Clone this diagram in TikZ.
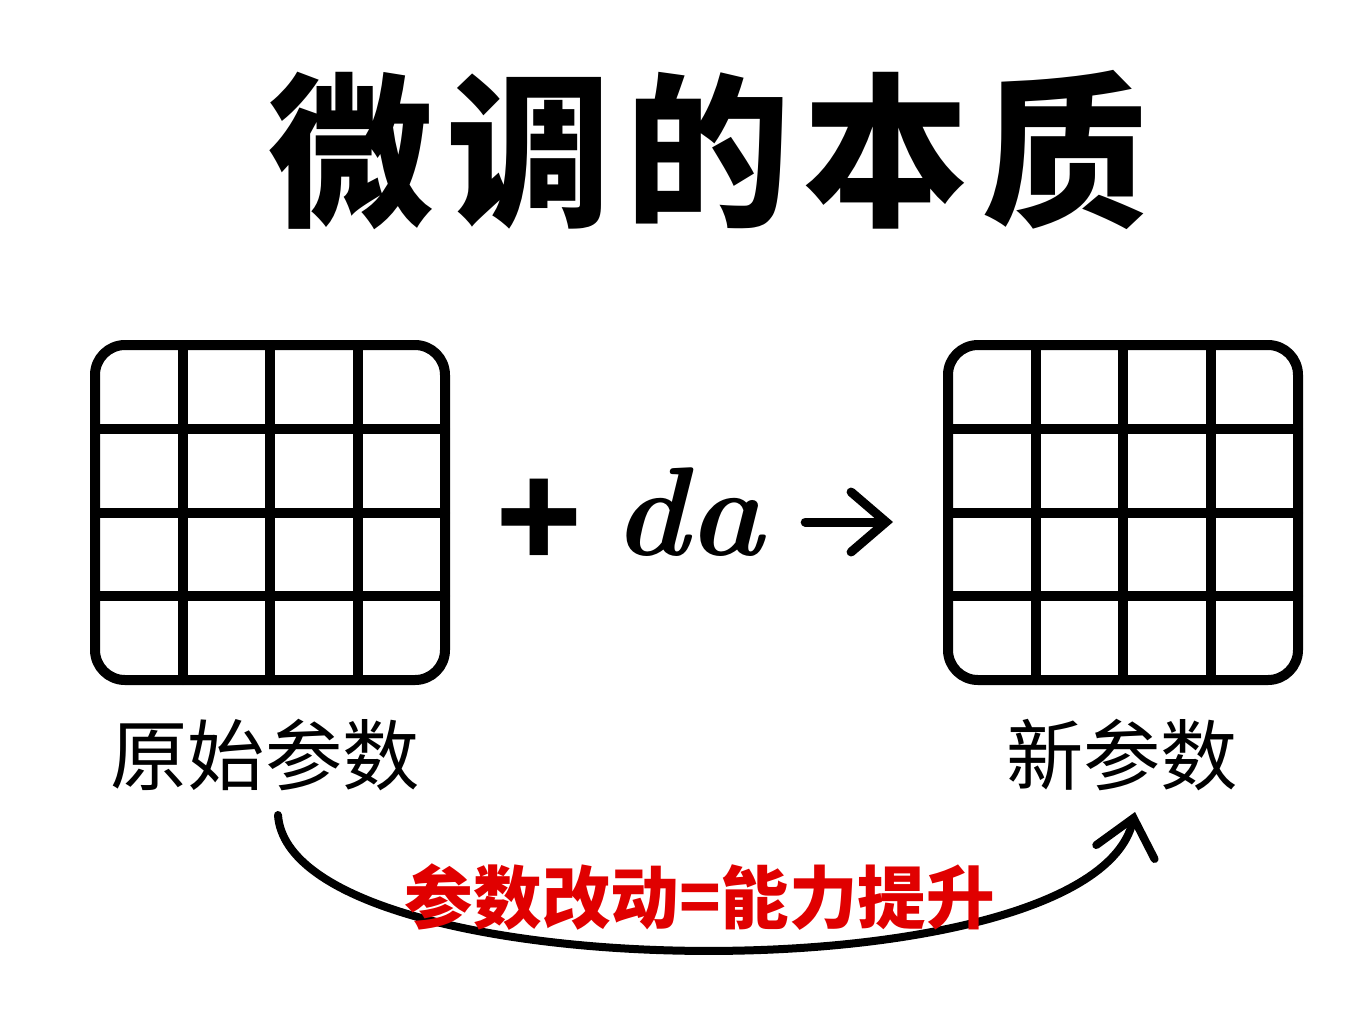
\documentclass[tikz,border=0pt]{standalone}
\usepackage{fontspec}
\newfontfamily\cjk{Noto Sans CJK SC}
\newfontfamily\cjktitle{Noto Sans CJK SC}[LetterSpace=8]
\usetikzlibrary{arrows.meta,positioning}

\tikzset{
  gridline/.style={line width=0.1cm, line cap=round, line join=round},
  paramlabel/.style={font=\cjk\fontsize{22}{26}\selectfont, inner sep=0pt},
  bigarrow/.style={line width=0.09cm, line cap=round, -{Straight Barb[length=3.5mm,width=6mm,line cap=round]}},
}

\begin{document}
\begin{tikzpicture}
\useasboundingbox (0,0) rectangle (13.65,-10.24);
% title
\node[font=\cjktitle\bfseries\fontsize{47}{56}\selectfont] (title) at (7.08,-1.5) {微调的本质};
% the two parameter matrices
\foreach \gx in {0.95, 9.48} {
  \draw[gridline, rounded corners=0.3cm] (\gx,-3.45) rectangle ++(3.5,-3.35);
  \foreach \i in {1,2,3} {
    \draw[gridline] (\gx+\i*0.875,-3.45) -- ++(0,-3.35);
    \draw[gridline] (\gx,-3.45-\i*0.8375) -- ++(3.5,0);
  }
}
\node[paramlabel] (orig) at (2.65,-7.55) {原始参数};
\node[paramlabel] (new) at (11.22,-7.55) {新参数};
% + da ->
\node[font=\cjk\bfseries\fontsize{40}{44}\selectfont] (plus) at (5.39,-5.25) {+};
\node[font=\bfseries\itshape\fontsize{36}{40}\selectfont, anchor=base] (da) at (6.88,-5.55) {da};
\coordinate (arrowtip) at (8.93,-5.22);
\draw[bigarrow] ([xshift=3mm]da.east |- arrowtip) -- (arrowtip);
% curved arrow below
\coordinate (cstart) at (2.78,-8.15);
\coordinate (cend) at (11.35,-8.12);
\draw[bigarrow, line width=0.08cm] (cstart) .. controls (2.9,-9.9) and (10.9,-10.0) .. (cend);
\node[font=\cjk\bfseries\fontsize{19.5}{24}\selectfont, text=red!88!black] (gain) at (7.0,-8.97) {参数改动=能力提升};
\end{tikzpicture}
\end{document}
